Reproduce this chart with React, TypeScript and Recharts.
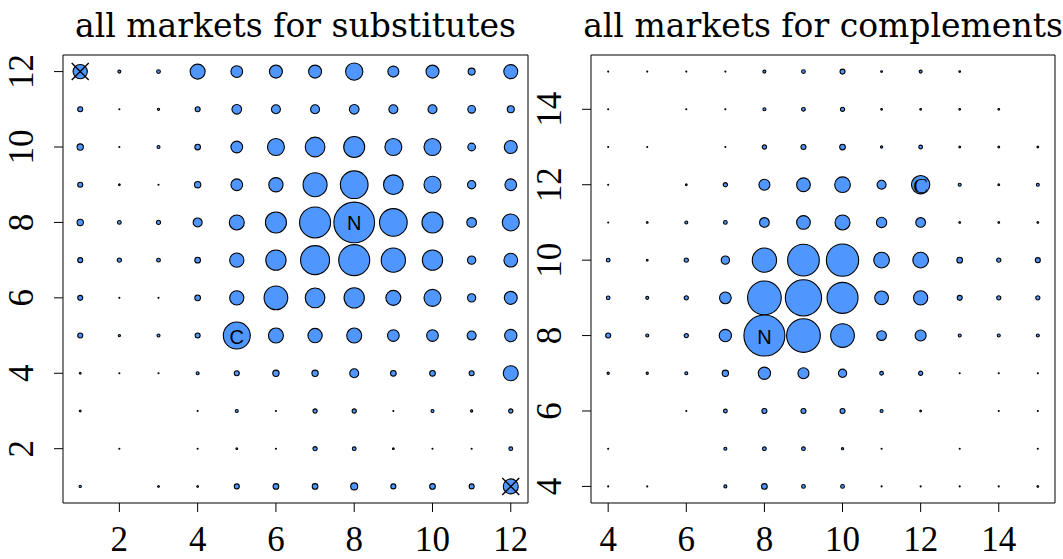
import { ScatterChart, Scatter, XAxis, YAxis, ZAxis, ReferenceArea } from "recharts";

// market grid, rows listed from top (highest y) to bottom
const subX = [1, 2, 3, 4, 5, 6, 7, 8, 9, 10, 11, 12];
const subY = [12, 11, 10, 9, 8, 7, 6, 5, 4, 3, 2, 1];
const subCounts = [
  [204, 9, 14, 225, 137, 169, 169, 299, 121, 169, 49, 196],
  [25, 1, 5, 25, 94, 81, 81, 94, 81, 81, 59, 49],
  [40, 1, 9, 32, 137, 289, 388, 441, 289, 289, 59, 169],
  [25, 3, 1, 40, 137, 204, 576, 767, 388, 289, 69, 137],
  [40, 14, 18, 81, 225, 441, 961, 1656, 767, 441, 94, 289],
  [25, 18, 14, 32, 204, 412, 841, 961, 590, 412, 69, 188],
  [25, 1, 1, 32, 204, 562, 388, 412, 225, 289, 69, 169],
  [25, 5, 9, 25, 729, 225, 204, 225, 137, 137, 81, 151],
  [3, 1, 1, 9, 25, 40, 40, 81, 32, 32, 25, 225],
  [3, 0, 0, 1, 9, 1, 18, 18, 1, 9, 5, 18],
  [0, 1, 0, 1, 3, 1, 18, 14, 3, 1, 1, 14],
  [5, 0, 3, 3, 25, 32, 32, 49, 25, 32, 25, 225],
];
const subTicks = [2, 4, 6, 8, 10, 12];
const subLabels = [
  { x: 8, y: 8, label: "N", serif: false },
  { x: 5, y: 5, label: "C", serif: false },
];
const subCrosses = [
  { x: 1, y: 12 },
  { x: 12, y: 1 },
];

const compX = [4, 5, 6, 7, 8, 9, 10, 11, 12, 13, 14, 15];
const compY = [15, 14, 13, 12, 11, 10, 9, 8, 7, 6, 5, 4];
const compCounts = [
  [1, 1, 1, 1, 9, 14, 25, 3, 9, 3, 0, 0],
  [1, 0, 1, 1, 9, 14, 18, 3, 3, 3, 3, 0],
  [1, 1, 0, 1, 18, 25, 32, 5, 14, 3, 3, 3],
  [1, 0, 3, 18, 121, 188, 246, 81, 335, 9, 3, 9],
  [1, 3, 9, 14, 94, 188, 225, 106, 94, 3, 3, 3],
  [14, 3, 18, 69, 590, 1005, 1043, 246, 246, 32, 18, 25],
  [14, 9, 18, 137, 1136, 1318, 961, 188, 204, 25, 18, 18],
  [25, 9, 18, 151, 1681, 1136, 562, 94, 121, 9, 9, 9],
  [5, 5, 9, 40, 151, 121, 69, 14, 18, 1, 1, 1],
  [0, 0, 1, 14, 25, 25, 25, 9, 3, 0, 1, 1],
  [1, 0, 0, 9, 14, 14, 5, 1, 0, 1, 0, 1],
  [1, 1, 0, 9, 32, 14, 14, 1, 1, 1, 1, 3],
];
const compTicks = [4, 6, 8, 10, 12, 14];
const compLabels = [
  { x: 8, y: 8, label: "N", serif: false },
  { x: 12, y: 12, label: "C", serif: true },
];

const titles = ["all markets for substitutes", "all markets for complements"];

const MAX_COUNT = 1681;
const BLUE = "#4F97FF";
const SERIF = "'Liberation Serif', serif";

function toPoints(xs: number[], ys: number[], counts: number[][]) {
  const out: { x: number; y: number; n: number }[] = [];
  ys.forEach((y, i) =>
    xs.forEach((x, j) => {
      if (counts[i][j] > 0) out.push({ x, y, n: counts[i][j] });
    })
  );
  return out;
}

const XTick = (props: any) => {
  const { x, y, payload } = props;
  return (
    <text x={x} y={y + 37} textAnchor="middle" fontFamily={SERIF} fontSize={35} fill="#000">
      {payload.value}
    </text>
  );
};

const YTick = (props: any) => {
  const { x, y, payload } = props;
  const bx = x - 19;
  return (
    <text
      x={bx}
      y={y}
      transform={`rotate(-90 ${bx} ${y})`}
      textAnchor="middle"
      fontFamily={SERIF}
      fontSize={35}
      fill="#000"
    >
      {payload.value}
    </text>
  );
};

const LabelShape = (props: any) => (
  <text
    x={props.cx}
    y={props.cy + 1}
    textAnchor="middle"
    dominantBaseline="central"
    fontFamily={props.payload.serif ? SERIF : "'Liberation Sans', Arial, sans-serif"}
    fontSize={props.payload.serif ? 22 : 20}
    fill="#000"
  >
    {props.payload.label}
  </text>
);

const CrossShape = (props: any) => {
  const { cx, cy } = props;
  const h = 8.5;
  return (
    <g stroke="#000" strokeWidth={1.4}>
      <line x1={cx - h} y1={cy - h} x2={cx + h} y2={cy + h} />
      <line x1={cx - h} y1={cy + h} x2={cx + h} y2={cy - h} />
    </g>
  );
};

type PanelProps = {
  points: { x: number; y: number; n: number }[];
  labels: { x: number; y: number; label: string; serif: boolean }[];
  crosses: { x: number; y: number }[];
  lo: number;
  hi: number;
  ticks: number[];
  width: number;
  axisWidth: number;
  right: number;
};

function Panel({ points, labels, crosses, lo, hi, ticks, width, axisWidth, right }: PanelProps) {
  const pad = (hi - lo) * 0.04;
  const domain: [number, number] = [lo - pad, hi + pad];
  return (
    <ScatterChart width={width} height={559} margin={{ top: 55, right, bottom: 0, left: 0 }}>
      <XAxis
        type="number"
        dataKey="x"
        domain={domain}
        ticks={ticks}
        height={56}
        tickSize={9}
        axisLine={false}
        tickLine={{ stroke: "#000" }}
        tick={<XTick />}
      />
      <YAxis
        type="number"
        dataKey="y"
        domain={domain}
        ticks={ticks}
        width={axisWidth}
        tickSize={9}
        axisLine={false}
        tickLine={{ stroke: "#000" }}
        tick={<YTick />}
      />
      <ZAxis type="number" dataKey="n" domain={[0, MAX_COUNT]} range={[0, (MAX_COUNT * Math.PI) / 4]} />
      <ReferenceArea
        x1={domain[0]}
        x2={domain[1]}
        y1={domain[0]}
        y2={domain[1]}
        fill="none"
        stroke="#000"
        strokeWidth={1}
        ifOverflow="visible"
      />
      <Scatter data={points} fill={BLUE} stroke="#000" strokeWidth={1.1} isAnimationActive={false} />
      <Scatter data={crosses} shape={<CrossShape />} isAnimationActive={false} />
      <Scatter data={labels} shape={<LabelShape />} isAnimationActive={false} />
    </ScatterChart>
  );
}

export default function App() {
  const subPoints = toPoints(subX, subY, subCounts);
  const compPoints = toPoints(compX, compY, compCounts);
  return (
    <div
      style={{
        position: "absolute",
        left: 0,
        top: 0,
        width: 1063,
        height: 559,
        overflow: "hidden",
        background: "#fff",
      }}
    >
      <div style={{ position: "absolute", left: 0, top: 0 }}>
        <Panel
          points={subPoints}
          labels={subLabels}
          crosses={subCrosses}
          lo={1}
          hi={12}
          ticks={subTicks}
          width={531}
          axisWidth={63}
          right={3}
        />
      </div>
      <div style={{ position: "absolute", left: 531, top: 0 }}>
        <Panel
          points={compPoints}
          labels={compLabels}
          crosses={[]}
          lo={4}
          hi={15}
          ticks={compTicks}
          width={532}
          axisWidth={60}
          right={8}
        />
      </div>
      <svg width={1063} height={60} style={{ position: "absolute", left: 0, top: 0 }}>
        <text x={295.5} y={37} textAnchor="middle" fontFamily="'DejaVu Serif', serif" fontSize={33} fill="#000">
          {titles[0]}
        </text>
        <text x={823} y={37} textAnchor="middle" fontFamily="'DejaVu Serif', serif" fontSize={33} fill="#000">
          {titles[1]}
        </text>
      </svg>
    </div>
  );
}
